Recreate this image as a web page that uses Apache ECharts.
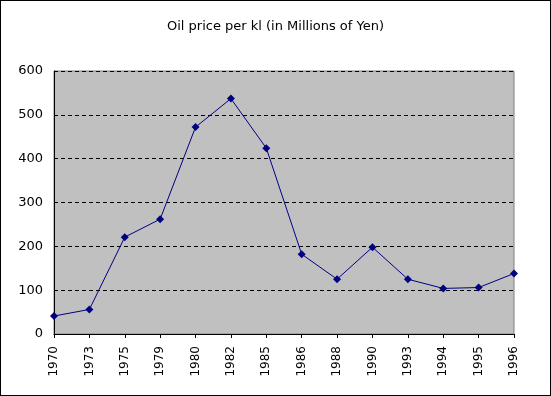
<!DOCTYPE html>
<html lang="en">
<head>
    <meta charset="UTF-8">
    <title>Oil price</title>
    <style>
        html, body { margin: 0; padding: 0; background: #fff; }
        #container { width: 551px; height: 396px; box-sizing: border-box; border: 1px solid #000; }
    </style>
</head>
<body>
<div id="container"></div>
<script type="text/javascript" src="https://cdn.jsdelivr.net/npm/echarts@6/dist/echarts.min.js"></script>
<script type="text/javascript">
    var years = ['1970', '1973', '1975', '1979', '1980', '1982', '1985', '1986', '1988', '1990', '1993', '1994', '1995', '1996'];
    var prices = [41, 56, 221, 262, 472, 537, 424, 182, 125, 198, 125, 104, 106, 138];
    var yTicks = [0, 100, 200, 300, 400, 500, 600];

    var dom = document.getElementById('container');
    var myChart = echarts.init(dom, null, { renderer: 'canvas' });

    var font = '"DejaVu Sans", sans-serif';

    var option = {
        animation: false,
        title: {
            text: 'Oil price per kl (in Millions of Yen)',
            left: 'center',
            top: 14,
            textStyle: { fontSize: 13, fontWeight: 'normal', color: '#000', fontFamily: font }
        },
        grid: {
            left: 53,
            right: 36,
            top: 70,
            bottom: 61,
            show: true,
            backgroundColor: '#c0c0c0',
            borderColor: '#808080',
            borderWidth: 1
        },
        xAxis: {
            type: 'category',
            data: years,
            boundaryGap: false,
            axisLine: { lineStyle: { color: '#000', width: 1 } },
            axisTick: { show: true, length: 4, lineStyle: { color: '#000' } },
            axisLabel: { rotate: 90, color: '#000', fontSize: 12, fontFamily: font, margin: 12 },
            splitLine: { show: false }
        },
        yAxis: {
            type: 'value',
            min: yTicks[0],
            max: yTicks[yTicks.length - 1],
            interval: 100,
            axisLine: { show: true, lineStyle: { color: '#000', width: 1 } },
            axisTick: { show: false },
            axisLabel: { color: '#000', fontSize: 13, fontFamily: font, margin: 11 },
            splitLine: { show: true, lineStyle: { color: '#000', type: [4, 3], width: 1 } }
        },
        series: [
            {
                name: 'Oil price',
                type: 'line',
                data: prices,
                symbol: 'diamond',
                symbolSize: 8,
                lineStyle: { color: '#000080', width: 1 },
                itemStyle: { color: '#000080' }
            }
        ]
    };

    myChart.setOption(option);
    window.addEventListener('resize', myChart.resize);
</script>
</body>
</html>
